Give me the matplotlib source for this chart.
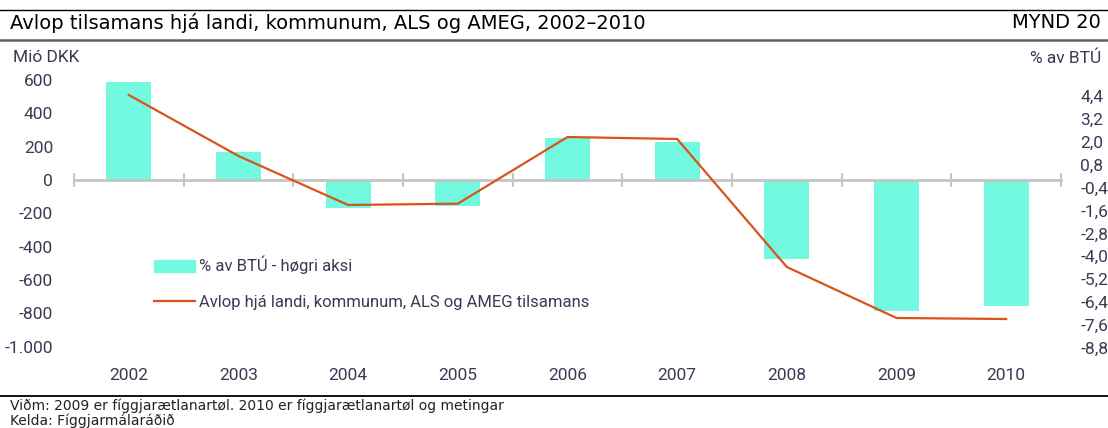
import numpy as np
import matplotlib
matplotlib.use("Agg")
import matplotlib.pyplot as plt
from matplotlib.lines import Line2D
from matplotlib.patches import Patch
import matplotlib.transforms as mtransforms

years = ["2002", "2003", "2004", "2005", "2006", "2007", "2008", "2009", "2010"]
# % av BTÚ (right axis)
pct_gdp = [5.15, 1.47, -1.45, -1.35, 2.2, 2.0, -4.15, -6.9, -6.6]
# Mió DKK (left axis)
mio_dkk = [510, 144, -150, -142, 258, 246, -522, -828, -834]

left_ticks = [600, 400, 200, 0, -200, -400, -600, -800, -1000]
right_ticks = [4.4, 3.2, 2.0, 0.8, -0.4, -1.6, -2.8, -4.0, -5.2, -6.4, -7.6, -8.8]

BAR_COLOR = "#72f9df"
LINE_COLOR = "#d9531a"
TXT = "#3b3954"
NARROW = ["Liberation Sans Narrow", "Roboto", "DejaVu Sans"]

W, H = 1108, 428
fig = plt.figure(figsize=(W / 100, H / 100), dpi=100)


def fx(px):
    return px / W


def fy(py):
    return 1 - py / H


# bars axis (right scale), line axis (left scale) on top
ax = fig.add_axes([fx(74), fy(360), fx(1061) - fx(74), fy(70) - fy(360)])
ax2 = ax.twinx()

x = np.arange(len(years))
ax.bar(x, pct_gdp, width=0.41, color=BAR_COLOR, zorder=1)
ax.set_xlim(-0.5, len(years) - 0.5)
ax.set_ylim(-9.45, 5.78)
ax2.set_ylim(-1080, 660)

ax2.plot(x, mio_dkk, color=LINE_COLOR, lw=1.6, zorder=3)

for a in (ax, ax2):
    for s in ("top", "left", "right", "bottom"):
        a.spines[s].set_visible(False)

# zero line with category boundary ticks
ax.spines["bottom"].set_visible(True)
ax.spines["bottom"].set_position(("data", 0))
ax.spines["bottom"].set_color("#c4c4c4")
ax.spines["bottom"].set_linewidth(2)
ax.spines["bottom"].set_zorder(2)
ax.set_xticks(np.arange(len(years) + 1) - 0.5)
ax.tick_params(axis="x", direction="inout", length=10, width=1.5,
               color="#c4c4c4", labelbottom=False)

# y ticks
ax.yaxis.tick_right()
ax.set_yticks(right_ticks)
ax.set_yticklabels([f"{v:.1f}".replace(".", ",") for v in right_ticks])
ax.tick_params(axis="y", length=0, pad=14, labelcolor=TXT, labelsize=12.5)
ax2.yaxis.tick_left()
ax2.set_yticks(left_ticks)
ax2.set_yticklabels([f"{v:,}".replace(",", ".") for v in left_ticks])
ax2.tick_params(axis="y", length=0, pad=15, labelcolor=TXT, labelsize=12.5)
for lbl in ax.get_yticklabels() + ax2.get_yticklabels():
    lbl.set_family(NARROW)

# year labels
trans = mtransforms.blended_transform_factory(ax.transData, fig.transFigure)
for i, yr in enumerate(years):
    ax.text(i, fy(375), yr, transform=trans, ha="center", va="center",
            fontsize=12.5, color=TXT, family=NARROW)

# legend
handles = [Patch(color=BAR_COLOR),
           Line2D([], [], color=LINE_COLOR, lw=1.6)]
labels = ["% av BTÚ - høgri aksi",
          "Avlop hjá landi, kommunum, ALS og AMEG tilsamans"]
leg = ax2.legend(handles, labels, loc="upper left",
                 bbox_to_anchor=(fx(139), fy(241)), bbox_transform=fig.transFigure,
                 frameon=False, handlelength=2.45, handleheight=0.7,
                 handletextpad=0.25, labelspacing=1.2,
                 prop={"family": NARROW, "size": 12})
for t in leg.get_texts():
    t.set_color(TXT)

# axis unit labels
fig.text(fx(13), fy(58), "Mió DKK", ha="left", va="center", fontsize=12.5,
         color=TXT, family=NARROW)
fig.text(fx(1101), fy(58), "% av BTÚ", ha="right", va="center", fontsize=12.5,
         color=TXT, family=NARROW)

# header and footer
fig.add_artist(Line2D([0, 1], [fy(10), fy(10)], color="black", lw=1))
fig.add_artist(Line2D([0, 1], [fy(40), fy(40)], color="#606060", lw=1.8))
fig.text(fx(10), fy(23), "Avlop tilsamans hjá landi, kommunum, ALS og AMEG, 2002–2010",
         ha="left", va="center", fontsize=14, color="black")
fig.text(fx(1101), fy(23), "MYND 20", ha="right", va="center", fontsize=14,
         color="black")
fig.add_artist(Line2D([0, 1], [fy(396), fy(396)], color="black", lw=1.3))
fig.text(fx(10), fy(406), "Viðm: 2009 er fíggjarætlanartøl. 2010 er fíggjarætlanartøl og metingar",
         ha="left", va="center", fontsize=10, color="#222222")
fig.text(fx(10), fy(421), "Kelda: Fíggjarmálaráðið",
         ha="left", va="center", fontsize=10, color="#222222")

fig.savefig("out.png", dpi=100)
